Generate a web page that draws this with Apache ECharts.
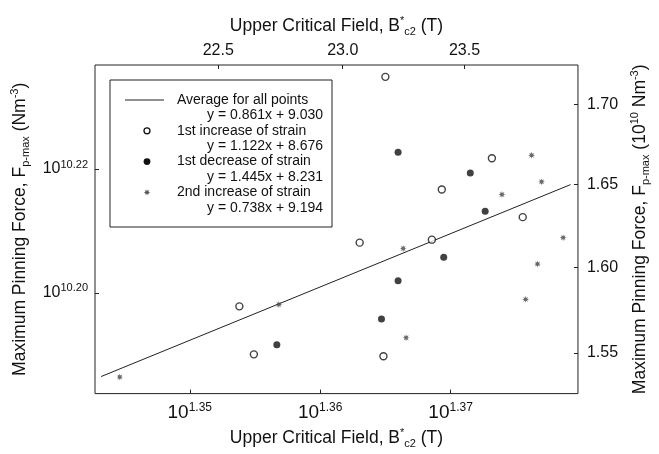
<!DOCTYPE html>
<html>
<head>
<meta charset="utf-8">
<script src="https://cdn.jsdelivr.net/npm/echarts@6/dist/echarts.min.js"></script>
<style>
  html, body { margin: 0; padding: 0; background: #fff; }
  #chart { width: 659px; height: 454px; }
</style>
</head>
<body>
<div id="chart"></div>
<script>
// Upper critical field B*c2 (T) and maximum pinning force Fp-max (10^10 N m^-3)
const firstIncrease = [
  [23.174, 1.7175], [23.614, 1.6663], [23.406, 1.6470], [23.743, 1.6302],
  [23.365, 1.6166], [23.069, 1.6148], [22.584, 1.5770], [22.642, 1.5491],
  [23.166, 1.5480]
];
const firstDecrease = [
  [23.226, 1.6700], [23.524, 1.6572], [23.586, 1.6338], [23.414, 1.6060],
  [23.226, 1.5921], [23.158, 1.5696], [22.734, 1.5547]
];
const secondIncrease = [
  [23.780, 1.6681], [23.822, 1.6518], [23.656, 1.6440], [23.913, 1.6178],
  [23.247, 1.6113], [22.742, 1.5781], [23.805, 1.6020], [23.755, 1.5811],
  [23.259, 1.5587], [22.112, 1.5361]
];

// Least-squares fit over all points, in log10 space: log F = slope * log B + intercept
const averageFit = { slope: 0.861, intercept: 9.030 };
const fitSpan = [1.3432, 1.3792];           // log10 B extent of the fitted line

const seriesNames = ['Average for all points', '1st increase of strain',
                     '1st decrease of strain', '2nd increase of strain'];
const equations = ['y = 0.861x + 9.030', 'y = 1.122x + 8.676',
                   'y = 1.445x + 8.231', 'y = 0.738x + 9.194'];

// Tick labels
const bottomTicks = [1.35, 1.36, 1.37];       // exponents of B
const topTicks = [22.5, 23.0, 23.5];          // B in tesla
const leftTicks = [10.20, 10.22];             // exponents of F
const rightTicks = [1.55, 1.60, 1.65, 1.70];  // F in 10^10 N m^-3

// Axis extents (log10 values)
const xRange = [1.34273, 1.37977];
const yRange = [10.18374, 10.23681];

const toLog = pts => pts.map(p => [Math.log10(p[0]), 10 + Math.log10(p[1])]);
const fitLine = fitSpan.map(x => [x, averageFit.slope * x + averageFit.intercept]);

function starPoints(points, rOut, rIn) {
  const pts = [];
  for (let i = 0; i < points * 2; i++) {
    const r = i % 2 === 0 ? rOut : rIn;
    const a = Math.PI * i / points - Math.PI / 2;
    pts.push([r * Math.cos(a), r * Math.sin(a)]);
  }
  return pts;
}
const STAR_PTS = starPoints(8, 10, 4.5);
const STAR = STAR_PTS.map((p, i) => (i === 0 ? 'M' : 'L') + p[0].toFixed(2) + ',' + p[1].toFixed(2)).join('') + 'Z';

const FONT = '"Liberation Sans", Arial, Helvetica, sans-serif';
const INK = '#111';

const titleRich = {
  t: { fontSize: 17.5, fontFamily: FONT, color: INK, lineHeight: 22 },
  sup: { fontSize: 11, fontFamily: FONT, color: INK, lineHeight: 10, verticalAlign: 'top' },
  sub: { fontSize: 11, fontFamily: FONT, color: INK, lineHeight: 10, verticalAlign: 'bottom' }
};

const chart = echarts.init(document.getElementById('chart'), null, { renderer: 'canvas' });

const legendX = 110, legendY = 80, rowH = 15.4;
const legendGraphics = [
  { type: 'rect', shape: { x: legendX, y: legendY, width: 222, height: 147 },
    style: { fill: '#fff', stroke: '#222', lineWidth: 1 }, z: 10 },
  { type: 'line', shape: { x1: legendX + 15, y1: legendY + 20, x2: legendX + 54, y2: legendY + 20 },
    style: { stroke: '#222', lineWidth: 1 }, z: 11 },
  { type: 'circle', shape: { cx: legendX + 37, cy: legendY + 20 + 2 * rowH, r: 3 },
    style: { fill: '#fff', stroke: INK, lineWidth: 1.3 }, z: 11 },
  { type: 'circle', shape: { cx: legendX + 37, cy: legendY + 20 + 4 * rowH, r: 3.4 },
    style: { fill: INK }, z: 11 },
  { type: 'polygon', shape: { points: STAR_PTS.map(p => [p[0] * 0.33, p[1] * 0.33]) },
    x: legendX + 37, y: legendY + 20 + 6 * rowH, style: { fill: '#555' }, z: 11 }
];
seriesNames.forEach((name, i) => {
  legendGraphics.push({
    type: 'text', x: legendX + 67, y: legendY + 20 + 2 * i * rowH, z: 11,
    style: { text: name, font: '14px ' + FONT, fill: INK, verticalAlign: 'middle', align: 'left' }
  });
  legendGraphics.push({
    type: 'text', x: legendX + 213, y: legendY + 20 + (2 * i + 1) * rowH, z: 11,
    style: { text: equations[i], font: '14px ' + FONT, fill: INK, verticalAlign: 'middle', align: 'right' }
  });
});

const option = {
  backgroundColor: '#fff',
  animation: false,
  grid: { left: 95, right: 75, top: 65, bottom: 54, show: true, borderColor: '#222', borderWidth: 1 },
  xAxis: [
    {
      type: 'value', position: 'bottom', min: xRange[0], max: xRange[1],
      axisLine: { show: false }, splitLine: { show: false },
      axisTick: { inside: true, length: 4, lineStyle: { color: '#222' }, customValues: bottomTicks },
      axisLabel: {
        customValues: bottomTicks, margin: 8,
        formatter: v => '{b|10}{s|' + v.toFixed(2) + '}',
        rich: {
          b: { fontSize: 19, fontFamily: FONT, color: INK, lineHeight: 22 },
          s: { fontSize: 12, fontFamily: FONT, color: INK, lineHeight: 12, verticalAlign: 'top' }
        }
      },
      name: '{t|Upper Critical Field, B}{sup|*}{sub|c2}{t| (T)}',
      nameLocation: 'middle', nameGap: 30, nameTextStyle: { rich: titleRich }
    },
    {
      type: 'value', position: 'top', min: xRange[0], max: xRange[1],
      axisLine: { show: false }, splitLine: { show: false },
      axisTick: { inside: true, length: 4, lineStyle: { color: '#222' }, customValues: topTicks.map(Math.log10) },
      axisLabel: {
        customValues: topTicks.map(Math.log10), margin: 6,
        formatter: v => Math.pow(10, v).toFixed(1),
        fontSize: 16, fontFamily: FONT, color: INK
      },
      name: '{t|Upper Critical Field, B}{sup|*}{sub|c2}{t| (T)}',
      nameLocation: 'middle', nameGap: 28, nameTextStyle: { rich: titleRich }
    }
  ],
  yAxis: [
    {
      type: 'value', position: 'left', min: yRange[0], max: yRange[1],
      axisLine: { show: false }, splitLine: { show: false },
      axisTick: { inside: true, length: 4, lineStyle: { color: '#222' }, customValues: leftTicks },
      axisLabel: {
        customValues: leftTicks, margin: 7,
        formatter: v => '{b|10}{s|' + v.toFixed(2) + '}',
        rich: {
          b: { fontSize: 16, fontFamily: FONT, color: INK, lineHeight: 20 },
          s: { fontSize: 11, fontFamily: FONT, color: INK, lineHeight: 11, verticalAlign: 'top' }
        }
      },
      name: '{t|Maximum Pinning Force, F}{sub|p-max}{t| (Nm}{sup|-3}{t|)}',
      nameLocation: 'middle', nameGap: 64, nameTextStyle: { rich: titleRich }
    },
    {
      type: 'value', position: 'right', min: yRange[0], max: yRange[1],
      axisLine: { show: false }, splitLine: { show: false },
      axisTick: { inside: true, length: 4, lineStyle: { color: '#222' }, customValues: rightTicks.map(f => 10 + Math.log10(f)) },
      axisLabel: {
        customValues: rightTicks.map(f => 10 + Math.log10(f)), margin: 9,
        formatter: v => Math.pow(10, v - 10).toFixed(2),
        fontSize: 16, fontFamily: FONT, color: INK
      },
      name: '{t|Maximum Pinning Force, F}{sub|p-max}{t| (10}{sup|10}{t| Nm}{sup|-3}{t|)}',
      nameLocation: 'middle', nameGap: 50, nameTextStyle: { rich: titleRich }
    }
  ],
  series: [
    {
      name: seriesNames[0], type: 'line', data: fitLine, symbol: 'none',
      lineStyle: { color: '#222', width: 1 }, z: 2
    },
    {
      name: seriesNames[1], type: 'scatter', data: toLog(firstIncrease),
      symbol: 'circle', symbolSize: 7,
      itemStyle: { color: '#fff', borderColor: INK, borderWidth: 1.4 }, z: 3
    },
    {
      name: seriesNames[2], type: 'scatter', data: toLog(firstDecrease),
      symbol: 'circle', symbolSize: 7, itemStyle: { color: INK }, z: 3
    },
    {
      name: seriesNames[3], type: 'scatter', data: toLog(secondIncrease),
      symbol: 'path://' + STAR, symbolSize: 7, itemStyle: { color: '#444' }, z: 3
    }
  ],
  graphic: legendGraphics
};

chart.setOption(option);
</script>
</body>
</html>
